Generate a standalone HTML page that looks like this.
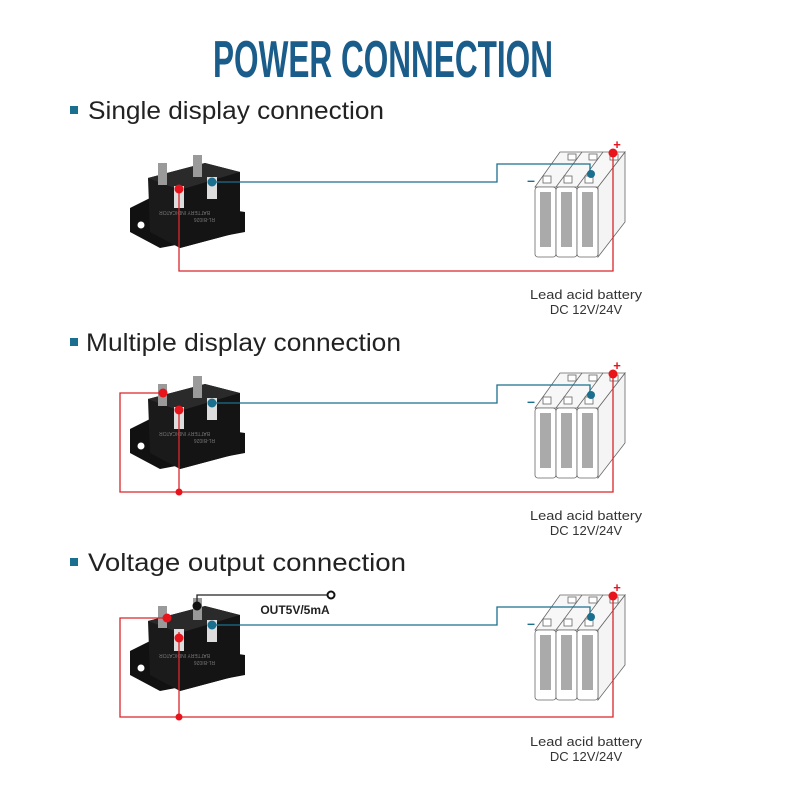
<!DOCTYPE html>
<html><head><style>
html,body{margin:0;padding:0;background:#fff;}
svg{display:block;}
</style></head><body>
<svg width="800" height="800" viewBox="0 0 800 800" xmlns="http://www.w3.org/2000/svg">
<defs>
<g id="dev">
  <path d="M130,208 L150,198 L245,212 L245,232 L160,248 L130,232 Z" fill="#111"/>
  <circle cx="141" cy="225" r="3.5" fill="#fff"/>
  <path d="M148,178 L205,163 L240,172 L240,232 L180,248 L150,232 Z" fill="#1a1a1a"/>
  <path d="M148,178 L205,163 L240,172 L180,190 Z" fill="#2a2a2a"/>
  <path d="M180,190 L240,172 L240,232 L180,248 Z" fill="#141414"/>
  <rect x="158" y="163" width="9" height="22" fill="#9a9a9a"/>
  <rect x="193" y="155" width="9" height="22" fill="#9a9a9a"/>
  <rect x="174" y="186" width="10" height="22" fill="#ddd"/>
  <rect x="207" y="177" width="10" height="22" fill="#ddd"/>
  <circle cx="212" cy="182" r="4.5" fill="#1b6f8e"/>
  <g fill="#777" font-family="Liberation Sans,sans-serif" font-size="5">
    <text x="190" y="215" transform="rotate(180 200 213)">BATTERY INDICATOR</text>
    <text x="195" y="222" transform="rotate(180 205 220)">RL-BI026</text>
  </g>
</g>
<g id="bat" stroke="#666" stroke-width="0.8" fill="#fff">
  <path d="M598,187 L625,152 L625,222 L598,257 Z" fill="#f4f4f4"/>
  <path d="M535,187 L560,152 L625,152 L598,187 Z" fill="#f7f7f7"/>
  <line x1="556" y1="187" x2="582" y2="152"/>
  <line x1="577" y1="187" x2="603" y2="152"/>
  <rect x="535" y="187" width="21" height="70" rx="3"/>
  <rect x="556" y="187" width="21" height="70" rx="3"/>
  <rect x="577" y="187" width="21" height="70" rx="3"/>
  <rect x="540" y="192" width="11" height="55" fill="#aaa" stroke="none"/>
  <rect x="561" y="192" width="11" height="55" fill="#aaa" stroke="none"/>
  <rect x="582" y="192" width="11" height="55" fill="#aaa" stroke="none"/>
  <rect x="543" y="176" width="8" height="7"/>
  <rect x="564" y="176" width="8" height="7"/>
  <rect x="585" y="176" width="8" height="7"/>
  <rect x="568" y="154" width="8" height="6"/>
  <rect x="589" y="154" width="8" height="6"/>
  <rect x="610" y="154" width="8" height="6"/>
</g>
</defs>

<text x="383" y="77" text-anchor="middle" font-family="Liberation Sans,sans-serif" font-weight="bold" font-size="52" fill="#1a5c8a" textLength="340" lengthAdjust="spacingAndGlyphs">POWER CONNECTION</text>

<g font-family="Liberation Sans,sans-serif" fill="#222">
  <rect x="70" y="106" width="8" height="8" fill="#1b6f8e"/>
  <text x="88" y="119" font-size="25" textLength="296" lengthAdjust="spacingAndGlyphs">Single display connection</text>
  <rect x="70" y="338" width="8" height="8" fill="#1b6f8e"/>
  <text x="86" y="351" font-size="25" textLength="315" lengthAdjust="spacingAndGlyphs">Multiple display connection</text>
  <rect x="70" y="558" width="8" height="8" fill="#1b6f8e"/>
  <text x="88" y="571" font-size="25" textLength="318" lengthAdjust="spacingAndGlyphs">Voltage output connection</text>
</g>

<g>
  <use href="#dev"/>
  <use href="#bat"/>
  <polyline points="215,182 497,182 497,164 590,164 590,174" fill="none" stroke="#1b6f8e" stroke-width="1.3"/>
  <circle cx="591" cy="174" r="4" fill="#1b6f8e"/>
  <polyline points="179,189 179,271 613,271 613,153" fill="none" stroke="#d9262b" stroke-width="1.3"/>
  <circle cx="179" cy="189" r="4.5" fill="#e8141c"/>
  <circle cx="613" cy="153" r="4.5" fill="#e8141c"/>
  <text x="617" y="149" fill="#e8141c" font-family="Liberation Sans,sans-serif" font-size="13" font-weight="bold" text-anchor="middle">+</text>
  <text x="531" y="185" fill="#1b6f8e" font-family="Liberation Sans,sans-serif" font-size="14" font-weight="bold" text-anchor="middle">–</text>
  <g font-family="Liberation Sans,sans-serif" font-size="13" fill="#333" text-anchor="middle">
    <text x="586" y="299" textLength="112" lengthAdjust="spacingAndGlyphs">Lead acid battery</text><text x="586" y="314">DC 12V/24V</text>
  </g>
</g>

<g transform="translate(0,221)">
  <use href="#dev"/>
  <use href="#bat"/>
  <polyline points="215,182 497,182 497,164 590,164 590,174" fill="none" stroke="#1b6f8e" stroke-width="1.3"/>
  <circle cx="591" cy="174" r="4" fill="#1b6f8e"/>
  <polyline points="179,189 179,271 613,271 613,153" fill="none" stroke="#d9262b" stroke-width="1.3"/>
  <polyline points="163,172 120,172 120,271 179,271" fill="none" stroke="#d9262b" stroke-width="1.3"/>
  <circle cx="163" cy="172" r="4.5" fill="#e8141c"/>
  <circle cx="179" cy="189" r="4.5" fill="#e8141c"/>
  <circle cx="179" cy="271" r="3.5" fill="#e8141c"/>
  <circle cx="613" cy="153" r="4.5" fill="#e8141c"/>
  <text x="617" y="149" fill="#e8141c" font-family="Liberation Sans,sans-serif" font-size="13" font-weight="bold" text-anchor="middle">+</text>
  <text x="531" y="185" fill="#1b6f8e" font-family="Liberation Sans,sans-serif" font-size="14" font-weight="bold" text-anchor="middle">–</text>
  <g font-family="Liberation Sans,sans-serif" font-size="13" fill="#333" text-anchor="middle">
    <text x="586" y="299" textLength="112" lengthAdjust="spacingAndGlyphs">Lead acid battery</text><text x="586" y="314">DC 12V/24V</text>
  </g>
</g>

<g transform="translate(0,443)">
  <use href="#dev"/>
  <use href="#bat"/>
  <polyline points="215,182 497,182 497,164 590,164 590,174" fill="none" stroke="#1b6f8e" stroke-width="1.3"/>
  <circle cx="591" cy="174" r="4" fill="#1b6f8e"/>
  <polyline points="179,189 179,274 613,274 613,153" fill="none" stroke="#d9262b" stroke-width="1.3"/>
  <polyline points="167,175 120,175 120,274 179,274" fill="none" stroke="#d9262b" stroke-width="1.3"/>
  <circle cx="167" cy="175" r="4.5" fill="#e8141c"/>
  <circle cx="179" cy="195" r="4.5" fill="#e8141c"/>
  <circle cx="179" cy="274" r="3.5" fill="#e8141c"/>
  <polyline points="197,163 197,152 328,152" fill="none" stroke="#222" stroke-width="1.3"/>
  <circle cx="197" cy="163" r="4.5" fill="#111"/>
  <circle cx="331" cy="152" r="3.5" fill="#fff" stroke="#111" stroke-width="2"/>
  <text x="295" y="171" font-family="Liberation Sans,sans-serif" font-size="12" font-weight="bold" fill="#222" text-anchor="middle">OUT5V/5mA</text>
  <circle cx="613" cy="153" r="4.5" fill="#e8141c"/>
  <text x="617" y="149" fill="#e8141c" font-family="Liberation Sans,sans-serif" font-size="13" font-weight="bold" text-anchor="middle">+</text>
  <text x="531" y="185" fill="#1b6f8e" font-family="Liberation Sans,sans-serif" font-size="14" font-weight="bold" text-anchor="middle">–</text>
  <g font-family="Liberation Sans,sans-serif" font-size="13" fill="#333" text-anchor="middle">
    <text x="586" y="303" textLength="112" lengthAdjust="spacingAndGlyphs">Lead acid battery</text><text x="586" y="318">DC 12V/24V</text>
  </g>
</g>
</svg>
</body></html>
